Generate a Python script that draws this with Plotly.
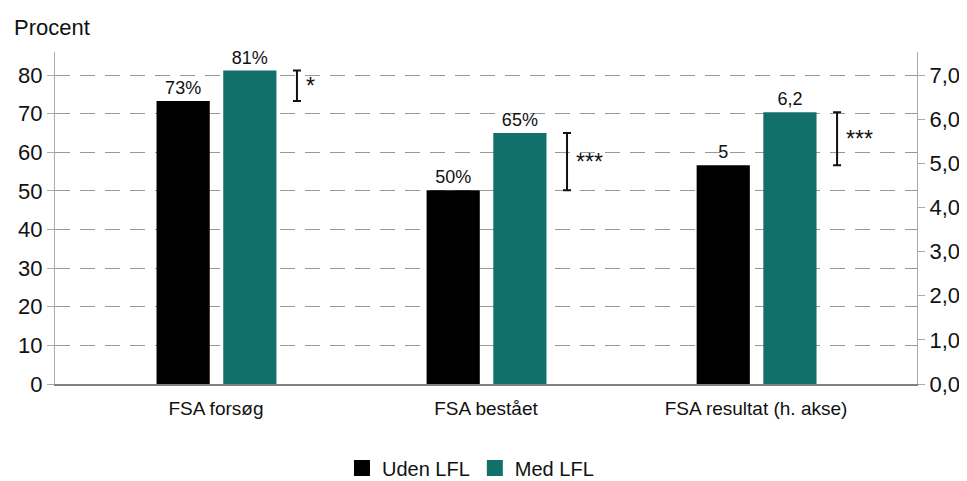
import plotly.graph_objects as go

categories = ["FSA forsøg", "FSA bestået", "FSA resultat (h. akse)"]
series_names = ["Uden LFL", "Med LFL"]
colors = ["#000000", "#12706A"]
# left axis (percent) values for first two categories
uden_pct = [73.3, 50.2]
med_pct = [81.2, 65.0]
# right axis (grade) values for third category
uden_grade = [4.96]
med_grade = [6.16]
labels_uden = ["73%", "50%", "5"]
labels_med = ["81%", "65%", "6,2"]
significance = ["*", "***", "***"]

x_pos = list(range(len(categories)))
W = 0.197
OFF = [-0.22, 0.027]
FONT = "Liberation Sans, Arial, sans-serif"

fig = go.Figure()
# bars on left axis
for k, (vals, lab) in enumerate([(uden_pct, labels_uden), (med_pct, labels_med)]):
    fig.add_trace(go.Bar(
        x=x_pos[:2], y=vals, width=W, offset=OFF[k], marker_color=colors[k],
        marker_line_width=0, text=lab[:2], textposition="outside",
        textfont=dict(size=18, color="#111"), cliponaxis=False,
        showlegend=False, yaxis="y", name=series_names[k]))
# bars on right axis
for k, (vals, lab) in enumerate([(uden_grade, labels_uden), (med_grade, labels_med)]):
    fig.add_trace(go.Bar(
        x=x_pos[2:], y=vals, width=W, offset=OFF[k], marker_color=colors[k],
        marker_line_width=0, text=lab[2:], textposition="outside",
        textfont=dict(size=18, color="#111"), cliponaxis=False,
        showlegend=False, yaxis="y2", name=series_names[k]))

# significance brackets
lows = uden_pct + uden_grade
highs = med_pct + med_grade
for i in range(len(categories)):
    mid = (lows[i] + highs[i]) / 2
    half = (highs[i] - lows[i]) / 2
    fig.add_trace(go.Scatter(
        x=[i + 0.3], y=[mid], mode="markers", marker=dict(size=1, color="rgba(0,0,0,0)"),
        error_y=dict(type="data", array=[half], color="#111", thickness=2, width=4),
        showlegend=False, hoverinfo="skip", yaxis="y" if i < 2 else "y2", cliponaxis=False))
    fig.add_annotation(x=i + 0.325, y=mid, xref="x",
                       yref="y" if i < 2 else "y2", text=significance[i],
                       showarrow=False, xanchor="left", yanchor="middle",
                       font=dict(size=23, color="#111", family=FONT))

# legend entries
for k in range(2):
    fig.add_trace(go.Scatter(x=[None], y=[None], mode="markers", name=series_names[k],
                             marker=dict(symbol="square", size=22, color=colors[k])))

# the page places the figure 8px from the top-left corner, so the figure is 8px smaller
fig.update_layout(
    width=959, height=473,
    margin=dict(l=47, r=50, t=44, b=97, autoexpand=False),
    paper_bgcolor="white", plot_bgcolor="white",
    font=dict(family=FONT, size=22, color="#111"),
    separators=", ",
    barmode="overlay",
    showlegend=True,
    legend=dict(orientation="h", x=0.482, xanchor="center", y=-0.253, yanchor="middle",
                font=dict(size=20), itemsizing="trace", traceorder="normal"),
    xaxis=dict(range=[-0.596, 2.596], tickmode="array", tickvals=x_pos, ticktext=categories,
               showgrid=False, zeroline=False, showline=True, linecolor="#808080", linewidth=2,
               ticks="", tickfont=dict(size=19), ticklabelstandoff=6, automargin=False),
    yaxis=dict(range=[0, 86], dtick=10, tick0=0, showgrid=True, gridcolor="#999",
               griddash="15px,10px", gridwidth=1, zeroline=False, showline=True,
               linecolor="#aaa", linewidth=1, ticks="outside", ticklen=7, tickcolor="#aaa",
               tickfont=dict(size=22), automargin=False),
    yaxis2=dict(range=[0, 7.525], dtick=1, tick0=0, tickformat=".1f", overlaying="y",
                side="right", showgrid=False, zeroline=False, showline=True,
                linecolor="#aaa", linewidth=1, ticks="outside", ticklen=7, tickcolor="#aaa",
                tickfont=dict(size=22), automargin=False),
    annotations=list(fig.layout.annotations) + [
        dict(text="Procent", xref="paper", yref="paper", x=-0.05, y=1.075,
             xanchor="left", yanchor="middle", showarrow=False, font=dict(size=22))
    ],
)

fig.write_html("out.html")
